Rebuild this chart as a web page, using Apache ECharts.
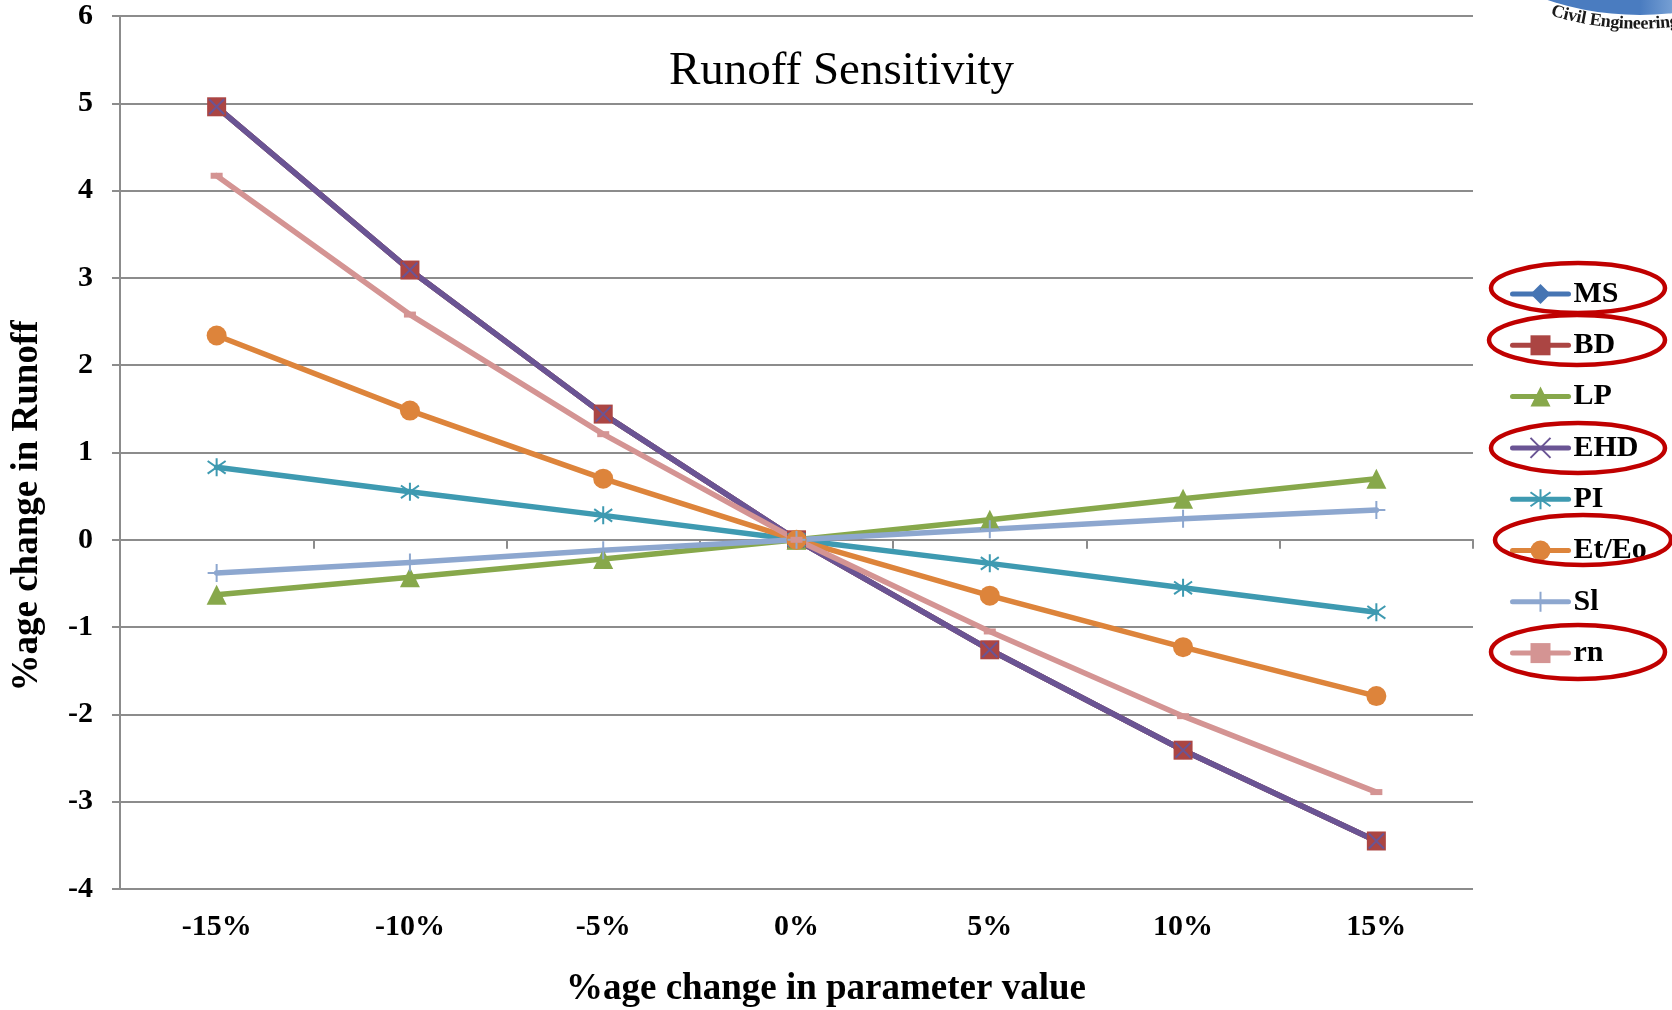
<!DOCTYPE html>
<html><head><meta charset="utf-8">
<script src="https://cdn.jsdelivr.net/npm/echarts@6/dist/echarts.min.js"></script>
<style>html,body{margin:0;padding:0;background:#fff}#c{width:1672px;height:1010px}</style>
</head><body><div id="c"></div>
<script>
// ---- data ----
const categories = ['-15%', '-10%', '-5%', '0%', '5%', '10%', '15%'];
const MS   = [4.96, 3.09, 1.44, 0, -1.26, -2.41, -3.45];
const BD   = [4.96, 3.09, 1.44, 0, -1.26, -2.41, -3.45];
const LP   = [-0.63, -0.43, -0.22, 0, 0.23, 0.47, 0.70];
const EHD  = [4.96, 3.09, 1.44, 0, -1.26, -2.41, -3.45];
const PI   = [0.83, 0.55, 0.28, 0, -0.27, -0.55, -0.83];
const EtEo = [2.34, 1.48, 0.70, 0, -0.64, -1.23, -1.79];
const Sl   = [-0.38, -0.26, -0.12, 0, 0.12, 0.24, 0.34];
const rn   = [4.17, 2.58, 1.21, 0, -1.05, -2.02, -2.89];
const yMin = -4, yMax = 6, yStep = 1;
const titleText = 'Runoff Sensitivity';
const xTitle = '%age change in parameter value';
const yTitle = '%age change in Runoff';

// ---- styles ----
const FONT = '"Liberation Serif", "Times New Roman", serif';
const GRID = '#8c8c8c';
const X_PATH = 'path://M0,0L10,10M10,0L0,10';
const STAR_PATH = 'path://M5,0L5,10M0.7,1.5L9.3,8.5M9.3,1.5L0.7,8.5';
const PLUS_PATH = 'path://M5,0L5,10M0,5L10,5';
const DASH_PATH = 'path://M0,0L10,0L10,4L0,4Z';

function mk(name, data, color, symbol, size, stroked) {
  return {
    name, type: 'line', data, xAxisIndex: 0, yAxisIndex: 0,
    color, symbol, symbolSize: size, showAllSymbol: true,
    lineStyle: { width: 5.5, color, cap: 'round', join: 'round' },
    itemStyle: stroked ? { color, borderColor: color, borderWidth: 2 } : { color, borderWidth: 0 },
    emphasis: { disabled: true }
  };
}

const series = [
  mk('MS', MS, '#4675b3', 'diamond', 18, false),
  mk('BD', BD, '#ab4543', 'rect', 19, false),
  mk('LP', LP, '#87a84b', 'triangle', 20, false),
  mk('EHD', EHD, '#6a5494', X_PATH, 15, true),
  mk('PI', PI, '#3e9ab1', STAR_PATH, 18, true),
  mk('Et/Eo', EtEo, '#dd843b', 'circle', 20, false),
  mk('Sl', Sl, '#8da7cf', PLUS_PATH, 18, true),
  mk('rn', rn, '#d49493', DASH_PATH, [12, 6], false)
];

// ---- decorations (graphic) ----
const graphics = [];
graphics.push({ type: 'text', x: 841.5, y: 71.5, z: 10,
  style: { text: titleText, font: '47px ' + FONT, fill: '#000', align: 'center', verticalAlign: 'middle' } });
graphics.push({ type: 'text', x: 826, y: 989, z: 10,
  style: { text: xTitle, font: 'bold 37px ' + FONT, fill: '#000', align: 'center', verticalAlign: 'middle' } });
graphics.push({ type: 'text', x: 27, y: 506, rotation: Math.PI / 2, z: 10,
  style: { text: yTitle, font: 'bold 37px ' + FONT, fill: '#000', align: 'center', verticalAlign: 'middle' } });

const ellipses = [[1578, 288, 87, 25], [1577, 340, 88, 25], [1578, 448, 87, 25], [1583, 540, 88, 25], [1578, 652, 87, 27]];
ellipses.forEach(e => graphics.push({ type: 'ellipse', z: 20,
  shape: { cx: e[0], cy: e[1], rx: e[2], ry: e[3] },
  style: { fill: null, stroke: '#c00000', lineWidth: 4.5 } }));

// logo fragment (globe + curved text) in the top-right corner
const gcx = 1640, gcy = -277;
graphics.push({ type: 'circle', z: 1, shape: { cx: gcx, cy: gcy, r: 292 },
  style: { fill: new echarts.graphic.LinearGradient(0, 0, 1, 0, [
    { offset: 0.50, color: '#4a7cc0' }, { offset: 0.62, color: '#a9c8ea' },
    { offset: 0.72, color: '#3e70b4' }, { offset: 0.80, color: '#e3edf8' },
    { offset: 0.90, color: '#5f8fcc' }, { offset: 1, color: '#c8dcf2' }]) } });
(function () {
  const ctx = document.createElement('canvas').getContext('2d');
  const lf = 'bold 18px ' + FONT;
  ctx.font = lf;
  const R = 310;
  let a = 107.0 * Math.PI / 180;
  for (const ch of 'Civil Engineering') {
    const w = ctx.measureText(ch).width * 0.97;
    const am = a - (w / 2) / R;
    graphics.push({ type: 'text', z: 2, x: gcx + R * Math.cos(am), y: gcy + R * Math.sin(am),
      rotation: Math.PI / 2 - am,
      style: { text: ch, font: lf, fill: '#1a1a1a', align: 'center', verticalAlign: 'bottom' } });
    a -= w / R;
  }
})();

const chart = echarts.init(document.getElementById('c'), null, { renderer: 'canvas' });
chart.setOption({
  animation: false,
  backgroundColor: '#fff',
  grid: { left: 120, right: 199, top: 16, bottom: 121, containLabel: false },
  legend: {
    orient: 'vertical', left: 1505, top: 274, padding: 5,
    itemWidth: 56, itemHeight: 25, itemGap: 21.3,
    selectedMode: false,
    lineStyle: { width: 5 },
    textStyle: { fontFamily: FONT, fontWeight: 'bold', fontSize: 30, lineHeight: 30, color: '#000' },
    data: series.map(s => s.name)
  },
  xAxis: [
    { type: 'category', data: categories, position: 'bottom', boundaryGap: true,
      axisLine: { show: true, onZero: true, lineStyle: { color: GRID, width: 2 } },
      axisTick: { show: true, length: 9, interval: 0, lineStyle: { color: GRID, width: 2 } },
      axisLabel: { show: false }, splitLine: { show: false } },
    { type: 'category', data: categories, position: 'bottom', boundaryGap: true,
      axisLine: { show: false, onZero: false }, axisTick: { show: false },
      axisLabel: { show: true, interval: 0, margin: 23.5, fontFamily: FONT, fontWeight: 'bold', fontSize: 30, lineHeight: 30, color: '#000' },
      splitLine: { show: false } }
  ],
  yAxis: {
    type: 'value', min: yMin, max: yMax, interval: yStep,
    axisLine: { show: true, onZero: false, lineStyle: { color: GRID, width: 2 } },
    axisTick: { show: true, length: 8, lineStyle: { color: GRID, width: 2 } },
    axisLabel: { margin: 27, fontFamily: FONT, fontWeight: 'bold', fontSize: 30, color: '#000', padding: [6, 0, 0, 0] },
    splitLine: { show: true, lineStyle: { color: GRID, width: 2 } }
  },
  series,
  graphic: { elements: graphics }
});
</script>
</body></html>
